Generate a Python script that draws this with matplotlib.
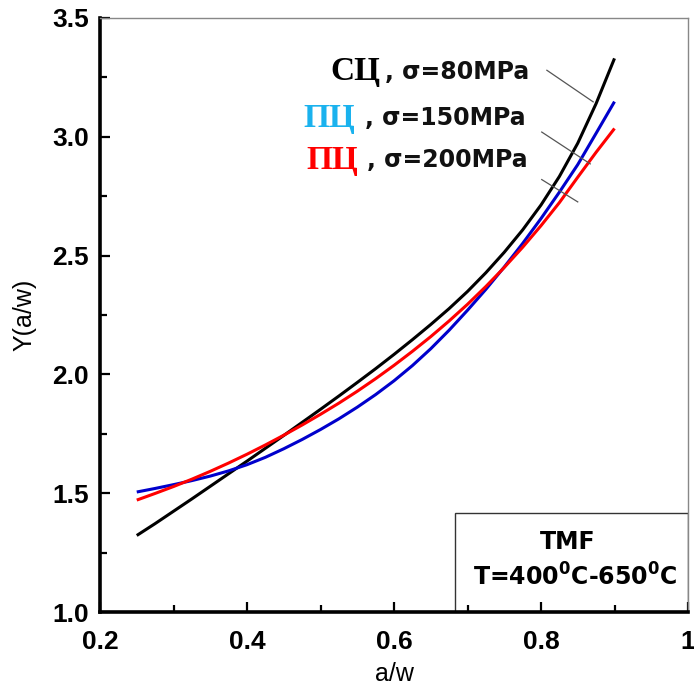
import matplotlib
matplotlib.use("Agg")
import matplotlib.pyplot as plt
from matplotlib.ticker import MultipleLocator, FixedLocator, FixedFormatter
from matplotlib.patches import Rectangle

# ---- data ----
aw = [0.25, 0.275, 0.30, 0.325, 0.35, 0.375, 0.40, 0.425, 0.45, 0.475, 0.50, 0.525, 0.55,
      0.575, 0.60, 0.625, 0.65, 0.675, 0.70, 0.725, 0.75, 0.775, 0.80, 0.825, 0.85, 0.875, 0.90]
y_80 = [1.322, 1.372, 1.424, 1.476, 1.529, 1.582, 1.635, 1.689, 1.743, 1.798, 1.853, 1.909, 1.966,
        2.024, 2.084, 2.146, 2.210, 2.277, 2.349, 2.428, 2.514, 2.608, 2.713, 2.833, 2.973, 3.140, 3.330]
y_150 = [1.505, 1.520, 1.536, 1.553, 1.572, 1.594, 1.620, 1.651, 1.687, 1.726, 1.768, 1.813, 1.862,
         1.915, 1.973, 2.037, 2.108, 2.186, 2.270, 2.358, 2.452, 2.551, 2.656, 2.767, 2.883, 3.015, 3.148]
y_200 = [1.471, 1.499, 1.528, 1.559, 1.592, 1.627, 1.664, 1.703, 1.744, 1.787, 1.832, 1.879, 1.929,
         1.982, 2.038, 2.097, 2.159, 2.225, 2.295, 2.370, 2.450, 2.535, 2.626, 2.723, 2.830, 2.935, 3.035]

series_names = ["СЦ", "ПЦ", "ПЦ"]
series_stress = [", σ=80MPa", ", σ=150MPa", ", σ=200MPa"]
line_colors = ["#000000", "#0000cc", "#ff0000"]
label_colors = ["#000000", "#1ab2ee", "#ff0000"]

x_ticks = [0.2, 0.4, 0.6, 0.8, 1.0]
x_ticklabels = ["0.2", "0.4", "0.6", "0.8", "1"]
y_ticks = [1.0, 1.5, 2.0, 2.5, 3.0, 3.5]
y_ticklabels = ["1.0", "1.5", "2.0", "2.5", "3.0", "3.5"]

plt.rcParams["mathtext.fontset"] = "dejavusans"

fig = plt.figure(figsize=(6.94, 6.91), dpi=100)
ax = fig.add_axes([100 / 694, (691 - 612) / 691, 588 / 694, 594 / 691])

for ys, c in zip([y_80, y_150, y_200], line_colors):
    ax.plot(aw, ys, color=c, lw=2.2, solid_capstyle="butt", zorder=3)

ax.set_xlim(0.2, 1.0)
ax.set_ylim(1.0, 3.5)

ax.xaxis.set_major_locator(FixedLocator(x_ticks))
ax.xaxis.set_major_formatter(FixedFormatter(x_ticklabels))
ax.xaxis.set_minor_locator(MultipleLocator(0.1))
ax.yaxis.set_major_locator(FixedLocator(y_ticks))
ax.yaxis.set_major_formatter(FixedFormatter(y_ticklabels))
ax.yaxis.set_minor_locator(MultipleLocator(0.25))

ax.tick_params(which="both", direction="in", width=1.6, top=False, right=False,
               labelsize=19)
ax.tick_params(axis="y", which="both", pad=8)
ax.tick_params(axis="x", which="both", pad=13)
ax.tick_params(which="major", length=7.5)
ax.tick_params(which="minor", length=5)
for lab in ax.get_xticklabels() + ax.get_yticklabels():
    lab.set_fontfamily("Liberation Sans")
    lab.set_fontweight("bold")

for s in ["left", "bottom"]:
    ax.spines[s].set_linewidth(2.6)
for s in ["top", "right"]:
    ax.spines[s].set_linewidth(1.0)
    ax.spines[s].set_color("#888888")

ax.set_xlabel("a/w", fontsize=18, fontfamily="Liberation Sans", labelpad=6)
ax.set_ylabel("Y(a/w)", fontsize=18, fontfamily="Liberation Sans", labelpad=11)

# legend-like labels
name_x = [0.581, 0.547, 0.551]
stress_x = [0.588, 0.561, 0.563]
label_y = [3.273, 3.079, 2.902]
for i in range(3):
    ax.text(name_x[i], label_y[i], series_names[i], color=label_colors[i],
            fontsize=24, fontweight="bold", fontfamily="Liberation Serif",
            ha="right", va="center")
    ax.text(stress_x[i], label_y[i], series_stress[i], color="#111111",
            fontsize=17, fontweight="bold", fontfamily="DejaVu Sans",
            ha="left", va="center")

# leader lines
leaders = [((0.808, 3.28), (0.871, 3.147)),
           ((0.801, 3.02), (0.867, 2.886)),
           ((0.801, 2.82), (0.850, 2.726))]
for (x0, y0), (x1, y1) in leaders:
    ax.plot([x0, x1], [y0, y1], color="#555555", lw=0.9, zorder=4)

# info box
ax.add_patch(Rectangle((0.683, 1.0), 0.317, 0.417, fill=False, edgecolor="#333333",
                       lw=1.0, zorder=2))
ax.text(0.836, 1.295, "TMF", fontsize=17, fontweight="bold",
        fontfamily="DejaVu Sans", ha="center", va="center")
ax.text(0.846, 1.147, r"T=400$^\mathbf{0}$C-650$^\mathbf{0}$C", fontsize=17, fontweight="bold",
        fontfamily="DejaVu Sans", ha="center", va="center")

fig.savefig("out.png", dpi=100)
